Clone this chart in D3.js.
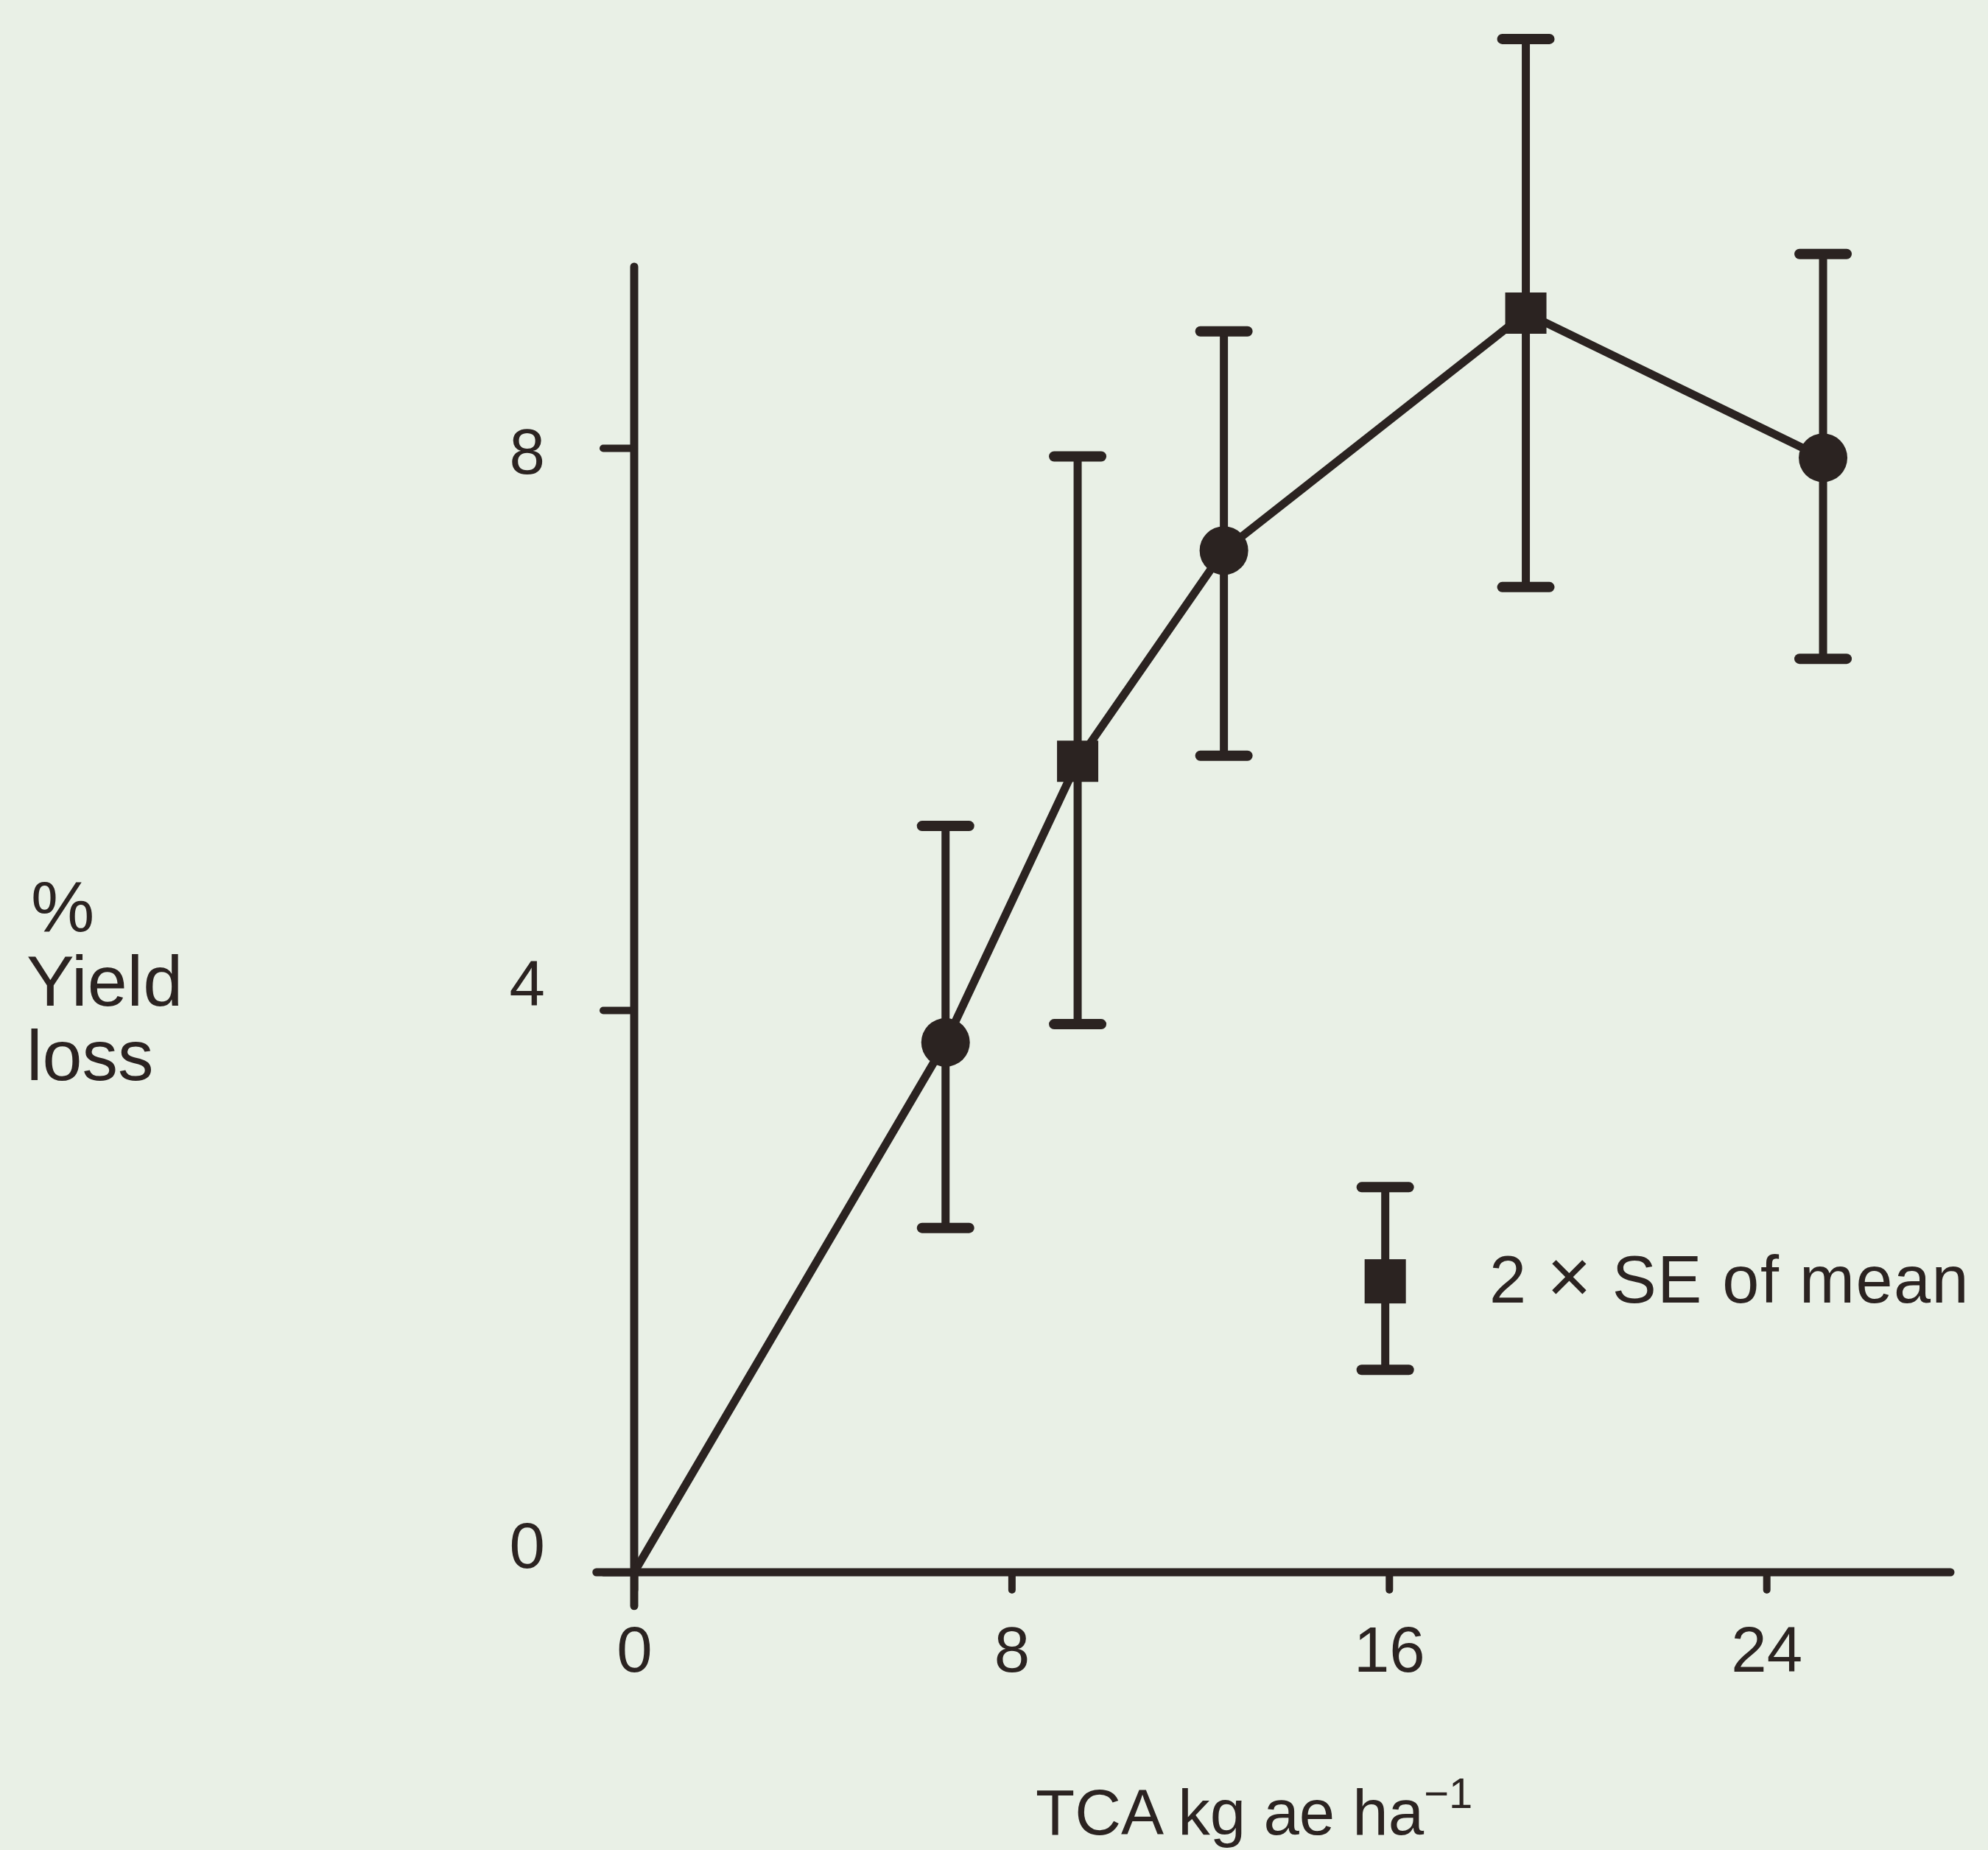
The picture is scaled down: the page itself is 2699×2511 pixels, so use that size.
<!DOCTYPE html>
<html>
<head>
<meta charset="utf-8">
<script src="https://cdn.jsdelivr.net/npm/d3@7"></script>
<style>
  html, body { margin: 0; padding: 0; background: #e9f0e6; }
  svg { display: block; }
  text { font-family: "Liberation Sans", Arial, Helvetica, sans-serif; fill: #2b2321; }
</style>
</head>
<body>
<div class="chart"></div>
<script>
const width = 2699
const height = 2511

// TCA dose (kg ae/ha) and % yield loss
const dose = [6.6, 9.4, 12.5, 18.9, 25.2]
const loss = [3.77, 5.77, 7.27, 8.96, 7.93]
const seUpper = [5.31, 7.94, 8.83, 10.91, 9.38]
const seLower = [2.45, 3.90, 5.81, 7.01, 6.50]
const markerType = ['circle', 'square', 'circle', 'square', 'circle']

const xTicks = [0, 8, 16, 24]
const yTicks = [0, 4, 8]

const ink = '#2b2321'

let svg = d3.select('.chart').append('svg')
  .attr('width', width)
  .attr('height', height)

svg.append('rect')
  .attr('width', width)
  .attr('height', height)
  .attr('fill', '#e9f0e6')

let x = d3.scaleLinear()
  .domain([0, 28])
  .range([861, 861 + 28 * 64.05])

let y = d3.scaleLinear()
  .domain([0, 8])
  .range([2134, 608])

// axes
let xAxis = svg.append('g')
  .attr('transform', `translate(0,${y(0)})`)
  .call(d3.axisBottom(x).tickValues(xTicks).tickSize(24).tickPadding(49).tickFormat(d3.format('d')))

let yAxis = svg.append('g')
  .attr('transform', `translate(${x(0)},0)`)
  .call(d3.axisLeft(y).tickValues(yTicks).tickSize(42).tickPadding(79).tickFormat(d3.format('d')))

;[xAxis, yAxis].forEach(g => {
  g.select('.domain').remove()
  g.selectAll('line').attr('stroke', ink).attr('stroke-width', 10).attr('stroke-linecap', 'round')
  g.selectAll('text').attr('font-size', 87).attr('fill', ink)
    .style('font-family', '"Liberation Sans", Arial, sans-serif')
})
// the printed labels for 0 and 4 sit a little above their ticks
yAxis.selectAll('text').attr('dy', d => d === 8 ? '0.4em' : '-0.08em')

// axis lines (cross at the origin)
svg.append('line')
  .attr('x1', x(-0.8)).attr('x2', x(27.9))
  .attr('y1', y(0)).attr('y2', y(0))
  .attr('stroke', ink).attr('stroke-width', 11).attr('stroke-linecap', 'round')

svg.append('line')
  .attr('x1', x(0)).attr('x2', x(0))
  .attr('y1', y(-0.24)).attr('y2', y(9.29))
  .attr('stroke', ink).attr('stroke-width', 11).attr('stroke-linecap', 'round')

// data line from the origin
let points = [[0, 0]].concat(dose.map((d, i) => [d, loss[i]]))

let line = d3.line()
  .x(d => x(d[0]))
  .y(d => y(d[1]))

svg.append('path')
  .datum(points)
  .attr('d', line)
  .attr('fill', 'none')
  .attr('stroke', ink)
  .attr('stroke-width', 11)
  .attr('stroke-linejoin', 'round')

// error bars
const capHalf = 32

let bars = svg.append('g')
  .selectAll('g')
  .data(dose.map((d, i) => ({ x: d, lo: seLower[i], hi: seUpper[i] })))
  .enter()
  .append('g')
  .attr('stroke', ink)
  .attr('stroke-linecap', 'round')

bars.append('line')
  .attr('x1', d => x(d.x)).attr('x2', d => x(d.x))
  .attr('y1', d => y(d.lo)).attr('y2', d => y(d.hi))
  .attr('stroke-width', 11)

bars.append('line')
  .attr('x1', d => x(d.x) - capHalf).attr('x2', d => x(d.x) + capHalf)
  .attr('y1', d => y(d.hi)).attr('y2', d => y(d.hi))
  .attr('stroke-width', 14)

bars.append('line')
  .attr('x1', d => x(d.x) - capHalf).attr('x2', d => x(d.x) + capHalf)
  .attr('y1', d => y(d.lo)).attr('y2', d => y(d.lo))
  .attr('stroke-width', 14)

// markers
let marks = svg.append('g')
  .selectAll('path')
  .data(dose.map((d, i) => ({ x: d, y: loss[i], type: markerType[i] })))
  .enter()
  .append('path')
  .attr('transform', d => `translate(${x(d.x)},${y(d.y)})`)
  .attr('d', d => d.type === 'circle'
    ? d3.symbol().type(d3.symbolCircle).size(Math.PI * 33 * 33)()
    : d3.symbol().type(d3.symbolSquare).size(56 * 56)())
  .attr('fill', ink)

// legend: sample error bar
const legX = x(15.92)
const legY = y(2.07)
const legTop = y(2.74)
const legBot = y(1.44)

let legend = svg.append('g')
  .attr('stroke', ink)
  .attr('stroke-linecap', 'round')

legend.append('line')
  .attr('x1', legX).attr('x2', legX)
  .attr('y1', legTop).attr('y2', legBot)
  .attr('stroke-width', 11)

legend.append('line')
  .attr('x1', legX - capHalf).attr('x2', legX + capHalf)
  .attr('y1', legTop).attr('y2', legTop)
  .attr('stroke-width', 14)

legend.append('line')
  .attr('x1', legX - capHalf).attr('x2', legX + capHalf)
  .attr('y1', legBot).attr('y2', legBot)
  .attr('stroke-width', 14)

legend.append('rect')
  .attr('x', legX - 28).attr('y', legY - 30)
  .attr('width', 56).attr('height', 60)
  .attr('stroke', 'none')
  .attr('fill', ink)

let legText = svg.append('text')
  .attr('x', 2022)
  .attr('y', 1768)
  .attr('font-size', 90)
  .attr('letter-spacing', 1.5)

legText.append('tspan').text('2 ')
legText.append('tspan').attr('font-size', 104).text('×')
legText.append('tspan').text(' SE of mean')

// axis titles
let xTitle = svg.append('text')
  .attr('x', 1406)
  .attr('y', 2490)
  .attr('font-size', 87)

xTitle.append('tspan').text('TCA kg ae ha')
xTitle.append('tspan')
  .attr('font-size', 58)
  .attr('dy', -36)
  .text('−1')

let yTitle = svg.append('text')
  .attr('font-size', 97)

yTitle.selectAll('tspan')
  .data(['%', 'Yield', 'loss'])
  .enter()
  .append('tspan')
  .attr('x', (d, i) => i === 0 ? 42 : 36)
  .attr('y', (d, i) => 1264 + i * 101)
  .text(d => d)
</script>
</body>
</html>
